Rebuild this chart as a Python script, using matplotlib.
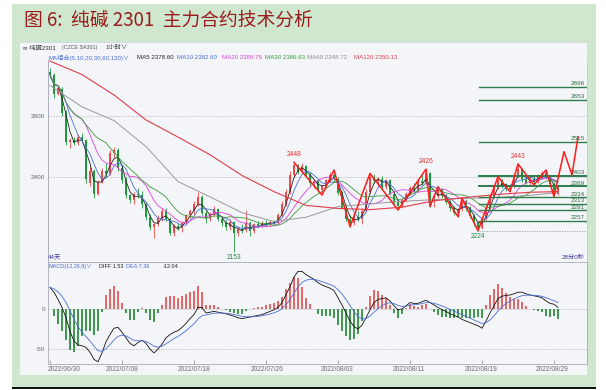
import matplotlib
matplotlib.use("Agg")
import matplotlib.pyplot as plt
from matplotlib.patches import Rectangle
import numpy as np
import pandas as pd

plt.rcParams['font.family'] = ['Liberation Sans', 'Noto Sans CJK SC', 'DejaVu Sans']

W, H = 606, 390

# ---------------- data (1-hour bars, resampled read-off) ----------------
opens = [2745, 2735, 2672, 2690, 2610, 2515, 2520, 2510, 2532, 2520,
         2380, 2420, 2345, 2385, 2420, 2410, 2480, 2490, 2430, 2390,
         2340, 2325, 2345, 2340, 2310, 2270, 2235, 2245, 2265, 2290,
         2262, 2218, 2238, 2232, 2250, 2275, 2288, 2310, 2335, 2282,
         2262, 2280, 2295, 2262, 2248, 2235, 2252, 2215, 2230, 2225,
         2250, 2222, 2245, 2240, 2250, 2245, 2252, 2248, 2275, 2310,
         2350, 2405, 2438, 2418, 2435, 2408, 2380, 2388, 2358, 2370,
         2390, 2405, 2395, 2348, 2300, 2262, 2250, 2268, 2262, 2290,
         2350, 2400, 2388, 2395, 2368, 2390, 2345, 2318, 2305, 2325,
         2345, 2365, 2358, 2388, 2380, 2412, 2320, 2338, 2360, 2338,
         2318, 2298, 2282, 2295, 2322, 2298, 2272, 2248, 2232, 2265,
         2300, 2338, 2368, 2390, 2372, 2362, 2370, 2405, 2425, 2392,
         2380, 2395, 2385, 2402, 2412, 2400, 2378, 2345]
highs = [2758, 2740, 2700, 2695, 2620, 2528, 2530, 2540, 2545, 2525,
         2432, 2425, 2390, 2430, 2445, 2490, 2500, 2495, 2440, 2400,
         2345, 2350, 2365, 2355, 2315, 2280, 2250, 2275, 2300, 2298,
         2270, 2245, 2250, 2255, 2280, 2295, 2320, 2350, 2340, 2290,
         2285, 2305, 2298, 2270, 2258, 2262, 2255, 2235, 2245, 2292,
         2255, 2250, 2255, 2255, 2258, 2258, 2260, 2282, 2320, 2360,
         2420, 2448, 2442, 2445, 2440, 2415, 2395, 2392, 2375, 2395,
         2415, 2423, 2400, 2355, 2310, 2275, 2275, 2290, 2300, 2360,
         2412, 2410, 2400, 2402, 2395, 2395, 2352, 2325, 2330, 2350,
         2372, 2380, 2395, 2405, 2426, 2415, 2345, 2368, 2365, 2345,
         2325, 2305, 2300, 2330, 2328, 2305, 2278, 2255, 2270, 2310,
         2345, 2375, 2401, 2395, 2380, 2375, 2410, 2443, 2430, 2398,
         2400, 2405, 2410, 2420, 2423, 2405, 2385, 2372]
lows = [2725, 2660, 2668, 2600, 2505, 2495, 2505, 2505, 2515, 2380,
        2372, 2330, 2340, 2380, 2400, 2405, 2465, 2420, 2380, 2330,
        2315, 2312, 2330, 2300, 2260, 2225, 2200, 2240, 2255, 2255,
        2210, 2208, 2225, 2220, 2245, 2265, 2280, 2305, 2275, 2250,
        2255, 2272, 2255, 2240, 2225, 2225, 2153, 2205, 2215, 2220,
        2208, 2218, 2235, 2235, 2240, 2240, 2242, 2245, 2270, 2305,
        2345, 2400, 2410, 2412, 2400, 2370, 2365, 2350, 2341, 2365,
        2382, 2385, 2340, 2295, 2255, 2237, 2242, 2255, 2245, 2285,
        2345, 2380, 2370, 2360, 2362, 2340, 2310, 2292, 2300, 2318,
        2340, 2350, 2352, 2375, 2375, 2303, 2303, 2330, 2330, 2310,
        2290, 2275, 2270, 2290, 2290, 2265, 2240, 2224, 2228, 2260,
        2295, 2330, 2360, 2365, 2355, 2352, 2365, 2400, 2385, 2378,
        2375, 2374, 2380, 2395, 2395, 2370, 2336, 2340]
closes = [2735, 2672, 2692, 2610, 2515, 2520, 2510, 2532, 2520, 2395,
          2420, 2345, 2385, 2420, 2410, 2480, 2490, 2430, 2390, 2340,
          2325, 2345, 2340, 2310, 2270, 2235, 2245, 2265, 2290, 2262,
          2218, 2238, 2232, 2250, 2275, 2288, 2310, 2335, 2282, 2262,
          2280, 2295, 2262, 2248, 2235, 2252, 2215, 2230, 2225, 2250,
          2222, 2245, 2240, 2250, 2245, 2252, 2248, 2275, 2310, 2350,
          2405, 2438, 2418, 2435, 2408, 2380, 2388, 2358, 2370, 2390,
          2405, 2395, 2348, 2300, 2262, 2250, 2268, 2262, 2290, 2350,
          2400, 2388, 2395, 2368, 2390, 2345, 2318, 2305, 2325, 2345,
          2365, 2358, 2388, 2380, 2412, 2320, 2338, 2360, 2338, 2318,
          2298, 2282, 2295, 2322, 2298, 2272, 2248, 2232, 2265, 2300,
          2338, 2368, 2390, 2372, 2362, 2370, 2405, 2425, 2392, 2380,
          2395, 2385, 2402, 2412, 2400, 2378, 2345, 2365]

ma_long_idx = [0, 8, 16, 24, 32, 40, 48, 56, 64, 72, 80, 88, 96, 104, 112, 120, 127]
ma60_vals = [2700, 2630, 2585, 2500, 2385, 2335, 2283, 2254, 2268, 2303,
             2312, 2320, 2326, 2330, 2333, 2340, 2349]
ma120_vals = [2780, 2736, 2669, 2587, 2531, 2473, 2405, 2352, 2307, 2297,
              2293, 2301, 2322, 2333, 2343, 2350, 2352]

# MACD DIFF line (one value per bar)
diff_vals = [27, 21, 12, 2, -11, -28, -40, -45, -46, -48,
             -54, -63, -66, -55, -41, -32, -24, -23, -29, -36,
             -43, -46, -42, -39, -43, -50, -55, -50, -44, -36,
             -32, -29, -27, -23, -18, -12, -7, 2, 2, -5,
             -4, -3, -4, -5, -6, -7.5, -9, -11, -12, -11,
             -10, -9, -8, -7, -5, -3, -1, 2, 8, 18,
             28, 40, 47, 47, 43, 40, 37, 33, 30, 28,
             26, 23, 14, 5, -5, -15, -22, -25, -20, -11,
             -1, 8, 12, 13, 14, 10, 4, -1, 0, 4,
             8, 7, 7, 9, 11, 8, 5, 2, -1, -3,
             -6, -8, -10, -13, -15, -17, -19, -21, -24, -15,
             -5, 4, 13, 16, 17, 17.5, 19, 21, 21, 19,
             17.5, 16.5, 15.5, 14, 10, 7, 6, 2]

# wave (zigzag) pivots, incl. projected legs
zz_idx = [61, 68, 71, 75, 80, 87, 94, 95, 97, 102, 103, 107, 112, 115, 117,
          121, 124, 126, 128.5, 130.5, 132]
zz_vals = [2448, 2341, 2423, 2237, 2412, 2292, 2426, 2303, 2368, 2270, 2330,
           2224, 2401, 2352, 2443, 2374, 2423, 2336, 2483, 2407, 2532]

peak_labels = [(61, 2448, "2448"), (94, 2426, "2426"), (117, 2443, "2443")]
trough_labels = [(46, 2153, "2153"), (107, 2224, "2224")]

fib_levels = [2696, 2653, 2515, 2403, 2369, 2334, 2313, 2291, 2257]
fib_base = 2224

date_labels = ["2022/06/30", "2022/07/08", "2022/07/18", "2022/07/26",
               "2022/08/03", "2022/08/11", "2022/08/19", "2022/08/29"]
date_days = [0, 6, 12, 18, 24, 30, 36, 42]
bars_per_day = 3

ma_legend = [("MA5 2378.60", "#222222"), ("MA10 2382.60", "#4a6fd6"),
             ("MA20 2389.75", "#e040e0"), ("MA30 2386.63", "#3a9a3a"),
             ("MA60 2348.72", "#8c8c8c"), ("MA120 2350.13", "#e03c4c")]
macd_legend = [("MACD(12,26,9)\u2228", "#4a6fd6"), ("DIFF 1.53", "#222222"),
               ("DEA 7.36", "#4a6fd6"), ("-12.04", "#222222")]

# ---------------- figure ----------------
fig = plt.figure(figsize=(W / 100, H / 100), dpi=100)
fig.patch.set_facecolor("white")

def rect(x0, y0, x1, y1, color, z=0):
    fig.add_artist(Rectangle((x0 / W, 1 - y1 / H), (x1 - x0) / W, (y1 - y0) / H,
                             transform=fig.transFigure, facecolor=color,
                             edgecolor="none", zorder=z))

def ftext(x, y, s, **kw):
    fig.text(x / W, 1 - y / H, s, **kw)

GREEN = "#cfe7cf"
rect(12, 4, 596, 387, GREEN)
rect(20, 43, 587, 375, "#f4f5f8")
rect(12, 42, 596, 43, "#d8dcd8")
rect(12, 387, 596, 388.6, "#111111")

ftext(24, 20, "图 6:  纯碱 2301  主力合约技术分析", fontsize=13.5, color="#9a1c1c",
      family=["Noto Sans CJK SC"], va="center", ha="left")

ftext(23, 47.5, "\u221e 纯碱2301", fontsize=4.5, color="#333333", va="center")
ftext(62, 47.5, "(CZCE SA301)", fontsize=3.8, color="#555555", va="center")
ftext(105, 47.5, "1小时\u2228", fontsize=4.5, color="#333333", va="center")

ftext(49, 57.5, "MA组合(5,10,20,30,60,120)\u2228", fontsize=4.4, color="#4a6fd6", va="center")
ma_leg_x = [137, 177, 222, 265, 307, 354]
for (s, c), xx in zip(ma_legend, ma_leg_x):
    ftext(xx, 57.5, s, fontsize=4.4, color=c, va="center")

# ---------------- price panel ----------------
x0, x1 = 48, 587
ax = fig.add_axes([x0 / W, 1 - 261 / H, (x1 - x0) / W, (261 - 60) / H])
ax.set_facecolor("#f4f5f8")
n = len(closes)
idx = np.arange(n)
ax.set_xlim(-0.5, 134.25)
ax.set_ylim(2124.6, 2783.6)

for yv in (2400, 2600):
    ax.axhline(yv, color="#b8b8c0", lw=0.6, ls=(0, (1.5, 1.5)), zorder=1)

o = np.array(opens); c = np.array(closes); h = np.array(highs); l = np.array(lows)
up = c >= o
col = np.where(up, "#f04848", "#1f9a3a")
ax.vlines(idx, l, h, colors=col, lw=0.6, zorder=3)
body = np.maximum(np.abs(c - o), 2.5)
ax.bar(idx, body, bottom=np.minimum(o, c), width=0.62, color=col, lw=0, zorder=3)

cs = pd.Series(closes, dtype=float)
ma_cfg = [(3, "#222222"), (5, "#4a6fd6"), (10, "#e040e0"), (15, "#3a9a3a")]
for win, colr in ma_cfg:
    ax.plot(idx, cs.rolling(win, min_periods=1).mean(), color=colr, lw=0.6, zorder=4)
ax.plot(ma_long_idx, ma60_vals, color="#9a9a9a", lw=0.7, zorder=4)
ax.plot(ma_long_idx, ma120_vals, color="#e03c4c", lw=0.8, zorder=4)

ax.plot(zz_idx, zz_vals, color="#ff1c1c", lw=1.1, zorder=6)

fib_start = 107.25
for fv in fib_levels:
    lw = 1.4 if fv in (2403, 2369) else 1.0
    ax.plot([fib_start, 134.25], [fv, fv], color="#2d7d4d", lw=lw, zorder=5)
    ax.text(133.7, fv + 2, str(fv), color="#2d6d40", fontsize=4.6,
            ha="right", va="bottom", zorder=7)
ax.plot([fib_start, 134.25], [fib_base, fib_base], color="#9a9aa0", lw=0.6,
        ls=(0, (1.5, 1.5)), zorder=5)

for xi, yv, s in peak_labels:
    ax.annotate(s, (xi, yv), xytext=(0, 3), textcoords="offset points",
                ha="center", va="bottom", fontsize=4.8, color="#e03030", zorder=7)
for xi, yv, s in trough_labels:
    ax.annotate(s, (xi, yv), xytext=(0, -1.5), textcoords="offset points",
                ha="center", va="top", fontsize=4.8, color="#2a8a4a", zorder=7)

ax.text(0.0, 0.005, "44天", transform=ax.transAxes, fontsize=4.5, color="#3a3aa0",
        ha="left", va="bottom")
ax.text(0.995, 0.005, "28分0秒", transform=ax.transAxes, fontsize=4.5, color="#3a3aa0",
        ha="right", va="bottom")

ax.set_yticks([2400, 2600])
ax.set_yticklabels(["2400", "2600"], fontsize=4.6, color="#666666")
ax.tick_params(axis="y", length=0, pad=2)
ax.set_xticks([])
for sp in ax.spines.values():
    sp.set_visible(False)
ax.spines["left"].set_visible(True)
ax.spines["left"].set_color("#a0a4b0")
ax.spines["left"].set_linewidth(0.6)
ax.spines["right"].set_visible(True)
ax.spines["right"].set_color("#c8ccd4")
ax.spines["right"].set_linewidth(0.6)

# ---------------- MACD panel ----------------
ax2 = fig.add_axes([x0 / W, 1 - 364 / H, (x1 - x0) / W, (364 - 262) / H])
ax2.set_facecolor("#f4f5f8")
ax2.set_xlim(-0.5, 134.25)
ax2.set_ylim(-68.75, 58.75)
diff = pd.Series(diff_vals, dtype=float)
dea = diff.ewm(span=6, adjust=False).mean()
hist = 2 * (diff - dea)
hcol = np.where(hist >= 0, "#e45858", "#2f8f3f")
ax2.vlines(idx, 0, hist, colors=hcol, lw=1.3, zorder=3)
ax2.plot(idx, diff, color="#111111", lw=0.6, zorder=4)
ax2.plot(idx, dea, color="#4a6fd6", lw=0.6, zorder=4)
for yv in (0, -50):
    ax2.axhline(yv, color="#b8b8c0", lw=0.6, ls=(0, (1.5, 1.5)), zorder=1)
ax2.set_yticks([0, -50])
ax2.set_yticklabels(["0", "-50"], fontsize=4.6, color="#666666")
ax2.tick_params(axis="y", length=0, pad=2)
tick_pos = [d * bars_per_day for d in date_days]
ax2.set_xticks(tick_pos)
ax2.set_xticklabels([])
ax2.tick_params(axis="x", direction="in", length=3, width=0.5, color="#888888")
for sp in ax2.spines.values():
    sp.set_color("#a8acb8")
    sp.set_linewidth(0.6)

lab_x = [64, 122, 194, 267, 337, 409, 481, 552]
for s, xx in zip(date_labels, lab_x):
    ftext(xx, 369.5, s, fontsize=4.8, color="#707070", ha="center", va="center")

mx = [49, 99, 126, 163]
for (s, colr), xx in zip(macd_legend, mx):
    ftext(xx, 266.5, s, fontsize=4.0, color=colr, va="center")

fig.savefig("out.png", dpi=100)
